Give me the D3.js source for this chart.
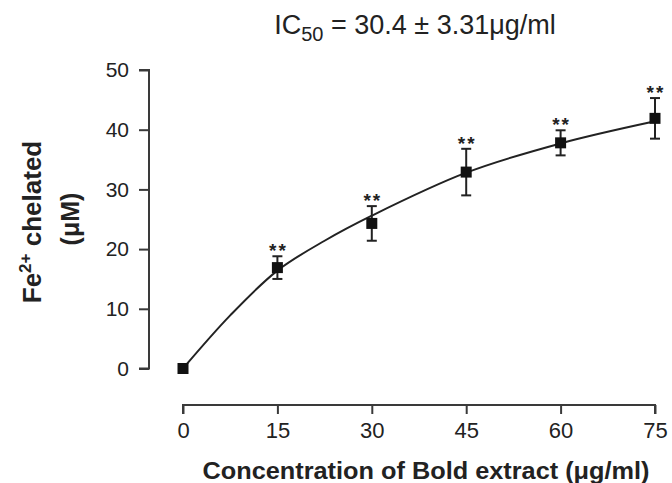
<!DOCTYPE html>
<html>
<head>
<meta charset="utf-8">
<script src="https://cdn.jsdelivr.net/npm/d3@7"></script>
<style>
  body { margin: 0; background: #fff; }
  text { font-family: "Liberation Sans", Arial, sans-serif; fill: #222; }
</style>
</head>
<body>
<script>
var width = 672, height = 483;

// data
var concentrations = [0, 15, 30, 45, 60, 75];
var chelated = [0, 16.9, 24.3, 32.9, 37.8, 41.9];
var errors = [0, 1.9, 2.9, 3.9, 2.1, 3.4];
var stars = ["", "**", "**", "**", "**", "**"];
// fitted curve
var fitX = [0, 7.5, 15, 22.5, 30, 45, 60, 75];
var fitY = [0, 8.9, 16.4, 21.4, 25.6, 32.8, 37.7, 41.4];
var xTicks = [0, 15, 30, 45, 60, 75];
var yTicks = [0, 10, 20, 30, 40, 50];

var svg = d3.select("body").append("svg").attr("width", width).attr("height", height);

var scaleX = d3.scaleLinear().domain([0, 75]).range([183, 655]);
var scaleY = d3.scaleLinear().domain([0, 50]).range([368.5, 70]);
var axisColor = "#3a3a3a";
var font = "Liberation Sans, Arial, sans-serif";

// title
var title = svg.append("text").attr("x", 415).attr("y", 34).attr("text-anchor", "middle")
  .attr("font-size", "27px");
title.append("tspan").text("IC");
title.append("tspan").attr("font-size", "20px").attr("dy", 7).text("50");
title.append("tspan").attr("dy", -7).text(" = 30.4 \u00b1 3.31\u03bcg/ml");

// y axis (detached)
var yAxis = svg.append("g").attr("transform", "translate(149,0)")
  .call(d3.axisLeft(scaleY).tickValues(yTicks).tickSize(10).tickPadding(10));
yAxis.select(".domain").attr("stroke", axisColor).attr("stroke-width", 2)
  .attr("d", "M-10," + scaleY(50) + "H0V" + scaleY(0) + "H-10");
yAxis.selectAll(".tick line").attr("stroke", axisColor).attr("stroke-width", 2);
yAxis.selectAll(".tick text").attr("font-size", "21px").attr("fill", "#333")
  .attr("font-family", font);

// x axis (detached)
var xAxis = svg.append("g").attr("transform", "translate(0,405)")
  .call(d3.axisBottom(scaleX).tickValues(xTicks).tickSize(9).tickPadding(8));
xAxis.select(".domain").attr("stroke", axisColor).attr("stroke-width", 2)
  .attr("d", "M" + scaleX(0) + ",9V0H" + scaleX(75) + "V9");
xAxis.selectAll(".tick line").attr("stroke", axisColor).attr("stroke-width", 2);
xAxis.selectAll(".tick text").attr("font-size", "22px").attr("fill", "#333")
  .attr("font-family", font);

// axis titles
svg.append("text").attr("x", 426).attr("y", 479).attr("text-anchor", "middle")
  .attr("font-size", "23px").attr("font-weight", "bold")
  .attr("textLength", 447).attr("lengthAdjust", "spacingAndGlyphs")
  .text("Concentration of Bold extract (\u03bcg/ml)");

var yLab = svg.append("text").attr("transform", "translate(41,222) rotate(-90)")
  .attr("text-anchor", "middle").attr("font-size", "26px").attr("font-weight", "bold");
yLab.append("tspan").text("Fe");
yLab.append("tspan").attr("font-size", "17px").attr("dy", -10).text("2+");
yLab.append("tspan").attr("dy", 10).text(" chelated");
svg.append("text").attr("transform", "translate(79,219) rotate(-90)")
  .attr("text-anchor", "middle").attr("font-size", "25px").attr("font-weight", "bold")
  .text("(\u03bcM)");

// fitted curve
var fit = fitX.map(function(d, i){ return [d, fitY[i]]; });
svg.append("path").datum(fit)
  .attr("fill", "none").attr("stroke", "#222").attr("stroke-width", 2)
  .attr("d", d3.line().x(function(d){ return scaleX(d[0]); })
    .y(function(d){ return scaleY(d[1]); }).curve(d3.curveCatmullRom.alpha(0.5)));

var points = concentrations.map(function(d, i){
  return {x: d, y: chelated[i], e: errors[i], s: stars[i]};
});

// error bars
var bars = svg.selectAll("g.err").data(points.filter(function(d){ return d.e > 0; }))
  .enter().append("g").attr("class", "err").attr("stroke", "#222").attr("stroke-width", 2);
bars.append("line")
  .attr("x1", function(d){ return scaleX(d.x); }).attr("x2", function(d){ return scaleX(d.x); })
  .attr("y1", function(d){ return scaleY(d.y + d.e); }).attr("y2", function(d){ return scaleY(d.y - d.e); });
bars.append("line")
  .attr("x1", function(d){ return scaleX(d.x) - 5; }).attr("x2", function(d){ return scaleX(d.x) + 5; })
  .attr("y1", function(d){ return scaleY(d.y + d.e); }).attr("y2", function(d){ return scaleY(d.y + d.e); });
bars.append("line")
  .attr("x1", function(d){ return scaleX(d.x) - 5; }).attr("x2", function(d){ return scaleX(d.x) + 5; })
  .attr("y1", function(d){ return scaleY(d.y - d.e); }).attr("y2", function(d){ return scaleY(d.y - d.e); });

// markers
svg.selectAll("rect.pt").data(points).enter().append("rect").attr("class", "pt")
  .attr("x", function(d){ return scaleX(d.x) - 5.5; })
  .attr("y", function(d){ return scaleY(d.y) - 5.5; })
  .attr("width", 11).attr("height", 11).attr("fill", "#111");

// significance stars
svg.selectAll("text.star").data(points).enter().append("text").attr("class", "star")
  .attr("x", function(d){ return scaleX(d.x) + 1; })
  .attr("y", function(d){ return scaleY(d.y + d.e) + 1; })
  .attr("text-anchor", "middle").attr("font-size", "19px").attr("font-weight", "bold")
  .attr("letter-spacing", "2px")
  .text(function(d){ return d.s; });
</script>
</body>
</html>
